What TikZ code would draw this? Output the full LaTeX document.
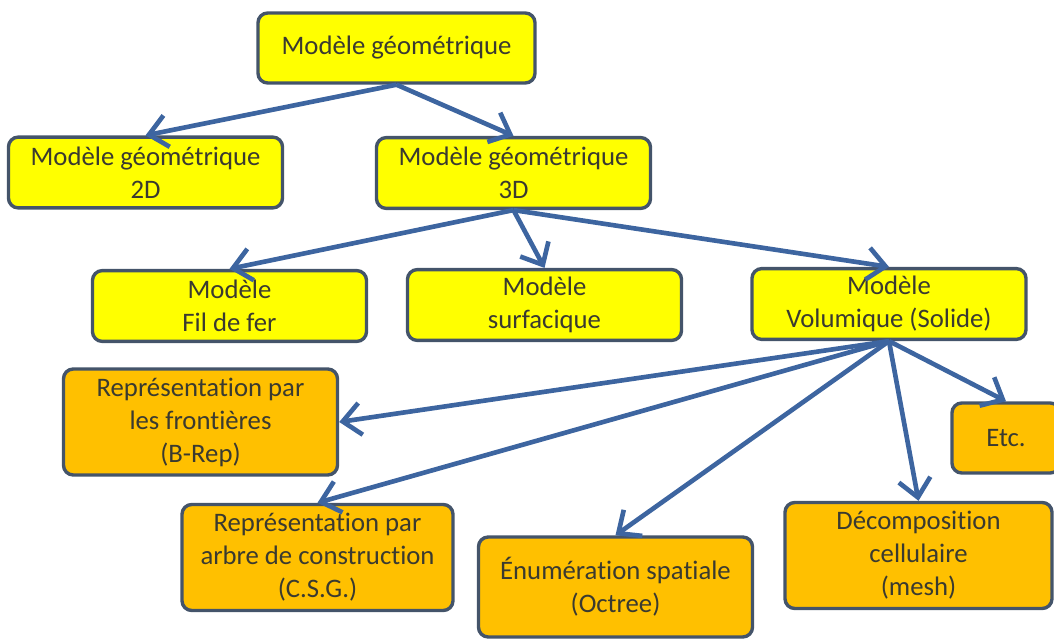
\documentclass[tikz,border=0pt]{standalone}
\usepackage{fontspec}
\setmainfont{Carlito}[Ligatures=NoCommon]
\usetikzlibrary{arrows.meta}
\definecolor{mgYellow}{HTML}{FFFF00}
\definecolor{mgOrange}{HTML}{FFC000}
\definecolor{mgBorder}{HTML}{44546A}
\definecolor{mgArrow}{HTML}{3D65A0}
\definecolor{mgText}{HTML}{3A3A30}
\tikzset{
  mg box/.style={draw=mgBorder, line width=2.4pt, rounded corners=7pt, text=mgText, align=center, font=\fontsize{19}{23.5}\selectfont, minimum width=6.85cm, minimum height=1.77cm, inner sep=0pt},
  mg yellow box/.style={mg box, fill=mgYellow},
  mg orange box/.style={mg box, fill=mgOrange},
  mg tall/.style={minimum height=2.65cm},
  mg arrow/.style={draw=mgArrow, line width=3.3pt, -{Straight Barb[length=4.5mm,width=8mm]}},
}

\begin{document}
\begin{tikzpicture}[x=0.025cm,y=-0.025cm]
  \useasboundingbox (0,0) rectangle (1054,639);

  % niveau 1 et 2
  \node[mg yellow box, minimum width=6.925cm, minimum height=1.75cm] (root) at (396.5,48) {Modèle géométrique};
  \node[mg yellow box] (geo2d) at (145.5,172.5) {Modèle géométrique\\2D};
  \node[mg yellow box] (geo3d) at (513.5,173) {Modèle géométrique\\3D};

  % niveau 3
  \node[mg yellow box] (fil) at (229.5,306) {Modèle\\Fil de fer};
  \node[mg yellow box] (surf) at (544.5,305) {Modèle\\surfacique};
  \node[mg yellow box] (vol) at (889,304) {Modèle\\Volumique (Solide)};

  % representations des solides
  \node[mg orange box, mg tall] (brep) at (200.5,422) {Représentation par\\les frontières\\(B-Rep)};
  \node[mg orange box, minimum width=2.7cm, minimum height=1.75cm] (etc) at (1006,438) {Etc.};
  \node[mg orange box, mg tall, minimum width=6.775cm] (csg) at (317.5,557.5) {Représentation par\\arbre de construction\\(C.S.G.)};
  \node[mg orange box, minimum height=2.5cm] (enum) at (615.5,587) {Énumération spatiale\\(Octree)};
  \node[mg orange box, mg tall, minimum width=6.675cm] (deco) at (918.5,555.5) {Décomposition\\cellulaire\\(mesh)};

  \draw[mg arrow] (root.south) -- (geo2d.north);
  \draw[mg arrow] (root.south) -- (geo3d.north);
  \foreach \child in {fil,surf,vol}
    \draw[mg arrow] (geo3d.south) -- (\child.north);
  \draw[mg arrow] (vol.south) -- (brep.east);
  \foreach \child in {csg,enum,deco,etc}
    \draw[mg arrow] (vol.south) -- (\child.north);
\end{tikzpicture}
\end{document}
